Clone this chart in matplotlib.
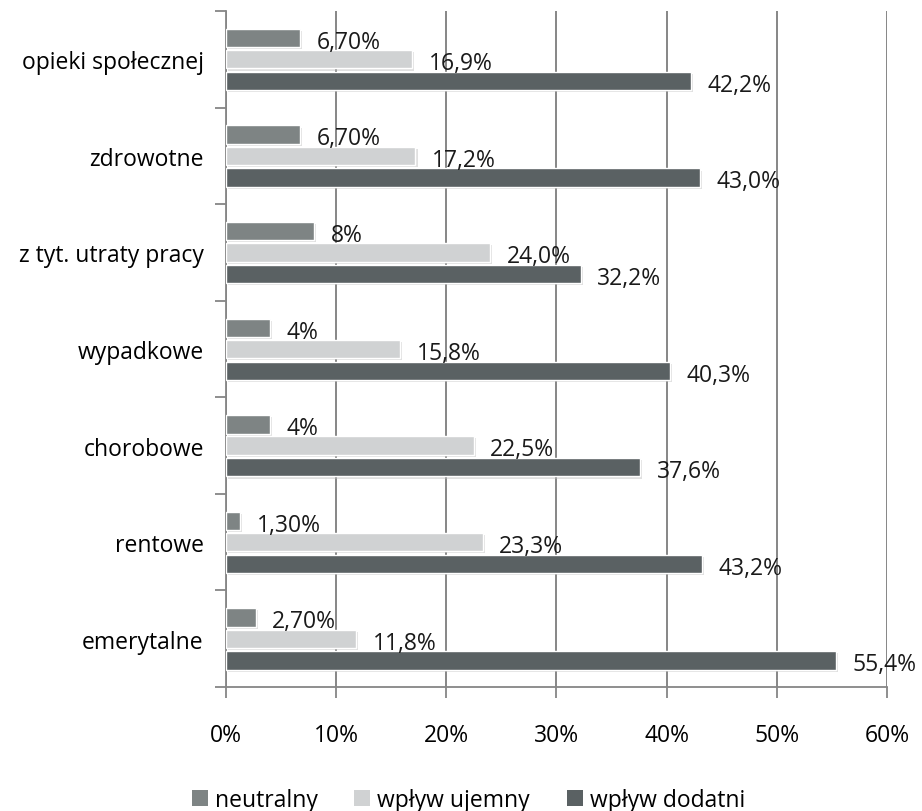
import matplotlib
matplotlib.use("Agg")
import matplotlib.pyplot as plt
import matplotlib.patheffects as pe
from matplotlib.patches import Patch
import numpy as np

plt.rcParams['font.family'] = ['Open Sans', 'DejaVu Sans']

categories = ["emerytalne", "rentowe", "chorobowe", "wypadkowe",
              "z tyt. utraty pracy", "zdrowotne", "opieki społecznej"]
neutralny = [2.7, 1.3, 4.0, 4.0, 8.0, 6.7, 6.7]
ujemny = [11.8, 23.3, 22.5, 15.8, 24.0, 17.2, 16.9]
dodatni = [55.4, 43.2, 37.6, 40.3, 32.2, 43.0, 42.2]
lab_neutralny = ["2,70%", "1,30%", "4%", "4%", "8%", "6,70%", "6,70%"]
lab_ujemny = ["11,8%", "23,3%", "22,5%", "15,8%", "24,0%", "17,2%", "16,9%"]
lab_dodatni = ["55,4%", "43,2%", "37,6%", "40,3%", "32,2%", "43,0%", "42,2%"]
series_names = ["neutralny", "wpływ ujemny", "wpływ dodatni"]
colors = ["#7e8484", "#d0d2d3", "#5a6163"]

FS = 16.5

fig = plt.figure(figsize=(9.22, 8.12), dpi=100)
ax = fig.add_axes([0.2451, 0.1527, 0.7169, 0.8325])

y = np.arange(len(categories))
h = 0.19
offsets = [0.22, 0.0, -0.225]
shadow = [pe.SimplePatchShadow(offset=(1.5, -1.5), shadow_rgbFace="#bbbbbb", alpha=0.45), pe.Normal()]
for vals, labs, off, col, name in zip([neutralny, ujemny, dodatni],
                                      [lab_neutralny, lab_ujemny, lab_dodatni],
                                      offsets, colors, series_names):
    bars = ax.barh(y + off, vals, height=h, color=col, edgecolor="white",
                   linewidth=1.0, label=name, zorder=3)
    for b in bars:
        b.set_path_effects(shadow)
    for yi, v, t in zip(y, vals, labs):
        ax.text(v + 1.5, yi + off - 0.04, t, va="center", ha="left",
                fontsize=FS, color="#1a1a1a", zorder=4)

ax.set_xlim(0, 60)
ax.set_ylim(-0.5, len(categories) - 0.5)
ax.set_xticks(np.arange(0, 61, 10))
ax.set_xticklabels([f"{v}%" for v in range(0, 61, 10)], fontsize=FS)
ax.set_yticks(y)
ax.set_yticklabels(categories, fontsize=FS)
ax.set_yticks(np.arange(-0.5, len(categories), 1), minor=True)
ax.tick_params(axis="y", which="major", length=0, pad=16)
ax.tick_params(axis="y", which="minor", length=8, color="#868686", width=1.3)
ax.tick_params(axis="x", which="major", length=8, color="#868686", width=1.3, pad=18)
ax.grid(axis="x", color="#868686", linewidth=1.4, zorder=0)
for s in ["top", "right"]:
    ax.spines[s].set_visible(False)
for s in ["left", "bottom"]:
    ax.spines[s].set_color("#868686")
    ax.spines[s].set_linewidth(1.3)

handles = [Patch(facecolor=c, edgecolor="none") for c in colors]
fig.legend(handles, series_names, loc="lower center", bbox_to_anchor=(0.508, -0.027),
           ncol=3, frameon=False, fontsize=FS, handlelength=0.7, handleheight=0.7,
           handletextpad=0.3, columnspacing=1.6)

fig.savefig("out.png", dpi=100)
